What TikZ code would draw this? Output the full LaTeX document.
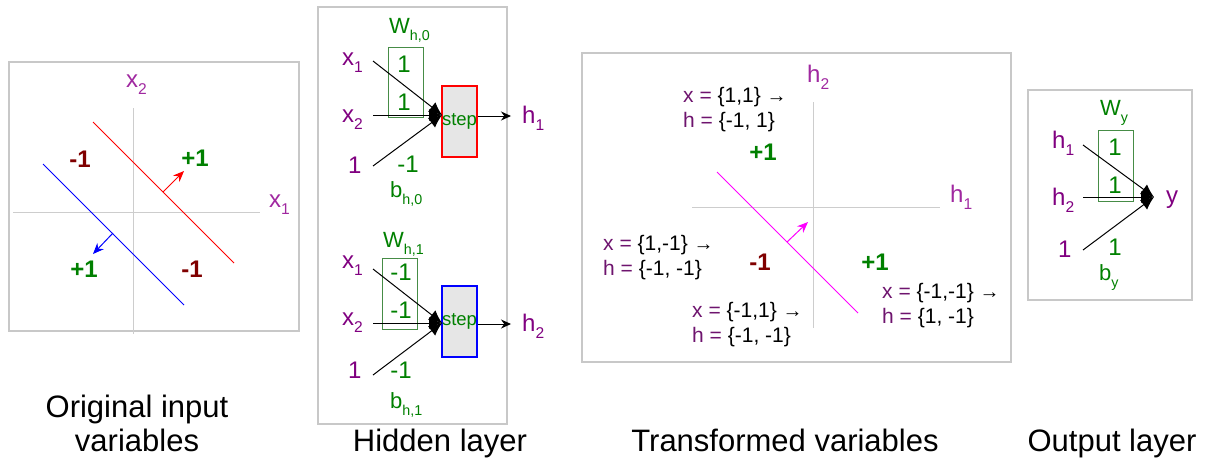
\documentclass[tikz,border=0pt]{standalone}
\usepackage{fontspec}
\setmainfont{Liberation Sans}
\usetikzlibrary{arrows.meta}
\definecolor{lblpurple}{RGB}{128,0,128}
\definecolor{axpurple}{RGB}{160,40,160}
\definecolor{txtpurple}{RGB}{110,20,110}
\definecolor{wgreen}{RGB}{0,128,0}
\definecolor{dred}{RGB}{128,0,0}
\definecolor{boxgray}{RGB}{200,200,200}
\definecolor{axgray}{RGB}{205,205,205}
\definecolor{wboxgreen}{RGB}{70,140,70}
\definecolor{stepfill}{RGB}{230,230,230}
\definecolor{mag}{RGB}{255,0,255}
\newcommand\sbs[1]{\raisebox{-0.32em}{\scalebox{0.65}{#1}}}
\newcommand\fs[1]{\fontsize{#1}{#1}\selectfont}
\tikzset{
  panel/.style={draw=boxgray, line width=2pt},
  axis/.style={draw=axgray, line width=1pt},
  lbl/.style={inner sep=0pt, anchor=base west, text=lblpurple, font=\fs{24}},
  axlbl/.style={inner sep=0pt, anchor=base west, text=axpurple, font=\fs{24}},
  wnum/.style={inner sep=0pt, anchor=base, text=wgreen, font=\fs{24}},
  wname/.style={inner sep=0pt, anchor=base west, text=wgreen, font=\fs{22}},
  bold/.style={inner sep=0pt, anchor=base, font=\fs{24}\bfseries},
  captxt/.style={inner sep=0pt, anchor=base, font=\fs{31}},
  ttxt/.style={inner sep=0pt, anchor=base west, font=\fs{21}},
  wbox/.style={draw=wboxgreen, line width=1pt},
  stepbox/.style={draw, fill=stepfill, line width=1.5pt, minimum width=35pt, minimum height=71pt, inner sep=0pt, text=wgreen, font=\fs{18.5}},
  inp/.style={draw=black, line width=1pt, -{Latex[length=13pt,width=12pt]}},
  outp/.style={draw=black, line width=1pt, -{Stealth[length=10pt,width=9pt]}},
  dirarrow/.style={line width=1pt, -{Stealth[length=11pt,width=9pt]}},
}
\begin{document}
\begin{tikzpicture}[x=1pt,y=-1pt]
\useasboundingbox (0,0) rectangle (1209,459);
% ---------- Panel 1 ----------
\draw[panel] (9,62) rectangle (299,331);
\draw[axis] (13,212) -- (260,212);
\draw[axis] (133,108) -- (133,334);
\node[axlbl] (px2) at (126,87) {x\sbs{2}};
\node[axlbl] (px1) at (269,207) {x\sbs{1}};
\coordinate (ra) at (93,122); \coordinate (rb) at (234,263);
\draw[red, line width=1pt] (ra) -- (rb);
\coordinate (rs) at (163,192); \coordinate (re) at (184,171);
\draw[red, dirarrow] (rs) -- (re);
\coordinate (ba) at (43,164); \coordinate (bb) at (184,305);
\draw[blue, line width=1pt] (ba) -- (bb);
\coordinate (bs) at (113,233); \coordinate (be) at (93,254);
\draw[blue, dirarrow] (bs) -- (be);
\node[bold, text=dred] (m1a) at (80,167) {-1};
\node[bold, text=wgreen] (p1a) at (195,166) {+1};
\node[bold, text=wgreen] (p1b) at (84,277) {+1};
\node[bold, text=dred] (m1b) at (192,277) {-1};
\node[captxt] (c1a) at (137,417) {Original input};
\node[captxt] (c1b) at (137,451) {variables};
% ---------- Panel 2 ----------
\draw[panel] (318,7) rectangle (507,424);
% top neuron
\draw[wbox] (388,47) rectangle (423,117);
\node[wname] (w0) at (389,33) {W\sbs{h,0}};
\node[wnum] (w01) at (404,72) {1};
\node[wnum] (w02) at (404,110) {1};
\node[wnum] (b0v) at (408,172) {-1};
\node[wname] (b0) at (390,197) {b\sbs{h,0}};
\node[lbl] (x1a) at (342,65) {x\sbs{1}};
\node[lbl] (x2a) at (342,122) {x\sbs{2}};
\node[lbl] (o1a) at (348,173) {1};
\node[stepbox, draw=red] (st0) at (459.5,121.5) {step};
\coordinate (s0) at (442,115);
\coordinate (i01) at (373,61); \coordinate (i02) at (373,115); \coordinate (i03) at (373,166);
\draw[inp] (i01) -- (s0);
\draw[inp] (i02) -- (s0);
\draw[inp] (i03) -- (s0);
\node[lbl] (h1o) at (522,123) {h\sbs{1}};
\draw[outp] (st0.east |- 0,116) -- (511,116);
% bottom neuron
\draw[wbox] (382,258) rectangle (417,329);
\node[wname] (w1) at (383,247) {W\sbs{h,1}};
\node[wnum] (w11) at (401,280) {-1};
\node[wnum] (w12) at (401,318) {-1};
\node[wnum] (b1v) at (401,378) {-1};
\node[wname] (b1) at (390,408) {b\sbs{h,1}};
\node[lbl] (x1b) at (342,268) {x\sbs{1}};
\node[lbl] (x2b) at (342,325) {x\sbs{2}};
\node[lbl] (o1b) at (348,378) {1};
\node[stepbox, draw=blue] (st1) at (459.5,321.5) {step};
\coordinate (s1) at (442,323);
\coordinate (i11) at (373,269); \coordinate (i12) at (373,323); \coordinate (i13) at (373,375);
\draw[inp] (i11) -- (s1);
\draw[inp] (i12) -- (s1);
\draw[inp] (i13) -- (s1);
\node[lbl] (h2o) at (522,331) {h\sbs{2}};
\draw[outp] (st1.east |- 0,324) -- (511,324);
\node[captxt] (c2) at (440,451) {Hidden layer};
% ---------- Panel 3 ----------
\draw[panel] (582,53) rectangle (1011,362);
\draw[axis] (692,207) -- (940,207);
\draw[axis] (813,102) -- (813,328);
\node[axlbl] (th2) at (807,82) {h\sbs{2}};
\node[axlbl] (th1) at (950,202) {h\sbs{1}};
\coordinate (ma) at (717,172); \coordinate (mb) at (858,313);
\draw[mag, line width=1pt] (ma) -- (mb);
\coordinate (ms) at (787,242); \coordinate (me) at (808,222);
\draw[mag, dirarrow] (ms) -- (me);
\node[bold, text=wgreen] (tp1) at (763,160) {+1};
\node[bold, text=dred] (tm1) at (760,270) {-1};
\node[bold, text=wgreen] (tp2) at (875,270) {+1};
\node[ttxt] (ta1) at (683,102) {\textcolor{txtpurple}{x =} \{1,1\} {\fs{20}→}};
\node[ttxt] (ta2) at (683,127) {\textcolor{txtpurple}{h =} \{-1, 1\}};
\node[ttxt] (tb1) at (603,250) {\textcolor{txtpurple}{x =} \{1,-1\} {\fs{20}→}};
\node[ttxt] (tb2) at (603,275) {\textcolor{txtpurple}{h =} \{-1, -1\}};
\node[ttxt] (tc1) at (692,317) {\textcolor{txtpurple}{x =} \{-1,1\} {\fs{20}→}};
\node[ttxt] (tc2) at (692,342) {\textcolor{txtpurple}{h =} \{-1, -1\}};
\node[ttxt] (td1) at (882,298) {\textcolor{txtpurple}{x =} \{-1,-1\} {\fs{20}→}};
\node[ttxt] (td2) at (882,323) {\textcolor{txtpurple}{h =} \{1, -1\}};
\node[captxt] (c3) at (785,451) {Transformed variables};
% ---------- Panel 4 ----------
\draw[panel] (1028,90) rectangle (1192,300);
\draw[wbox] (1098,130) rectangle (1133,201);
\node[wname] (wy) at (1100,115) {W\sbs{y}};
\node[wnum] (wy1) at (1115,155) {1};
\node[wnum] (wy2) at (1115,193) {1};
\node[wnum] (byv) at (1115,255) {1};
\node[wname] (by) at (1099,280) {b\sbs{y}};
\node[lbl] (h1i) at (1052,148) {h\sbs{1}};
\node[lbl] (h2i) at (1052,205) {h\sbs{2}};
\node[lbl] (o1c) at (1058,257) {1};
\node[lbl] (yo) at (1166,203) {y};
\coordinate (sy) at (1154,197);
\coordinate (iy1) at (1083,145); \coordinate (iy2) at (1083,197); \coordinate (iy3) at (1083,250);
\draw[inp] (iy1) -- (sy);
\draw[inp] (iy2) -- (sy);
\draw[inp] (iy3) -- (sy);
\node[captxt] (c4) at (1112,451) {Output layer};
\end{tikzpicture}
\end{document}
